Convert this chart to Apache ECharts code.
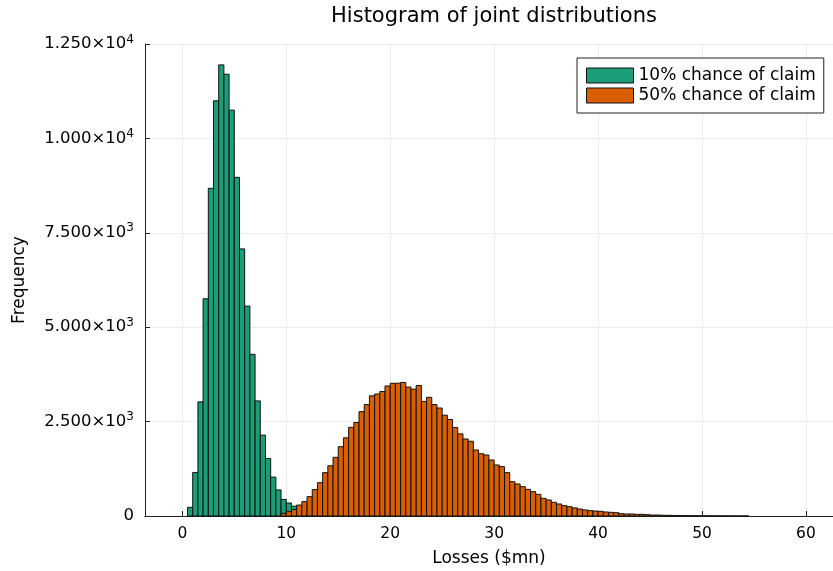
<!DOCTYPE html>
<html>
<head>
<meta charset="utf-8">
<script src="https://cdn.jsdelivr.net/npm/echarts@6/dist/echarts.min.js"></script>
<style>
html,body{margin:0;padding:0;background:#fff;}
#chart{width:833px;height:571px;}
</style>
</head>
<body>
<div id="chart"></div>
<script>
// Histogram bins are 0.5 wide; each array lists counts from its first bin start.
const binWidth = 0.5;
const greenStart = 0.5;
const greenCounts = [230, 1154, 3022, 5753, 8678, 10995, 11947, 11700, 10748, 8969,
  7074, 5559, 4282, 3048, 2141, 1524, 1030, 690, 440, 345, 260, 170, 110, 70, 45, 25, 15];
const orangeStart = 9.5;
const orangeCounts = [70, 115, 170, 290, 380, 512, 700, 883, 1148, 1330,
  1554, 1836, 2070, 2348, 2476, 2763, 2950, 3183, 3231, 3298,
  3443, 3514, 3518, 3537, 3415, 3360, 3456, 3035, 3143, 2950,
  2860, 2670, 2555, 2345, 2175, 2040, 1980, 1748, 1650, 1615,
  1483, 1351, 1307, 1148, 909, 848, 777, 706, 645, 574,
  468, 424, 362, 318, 274, 247, 215, 185, 160, 141,
  132, 124, 106, 97, 88, 62, 53, 53, 44, 44,
  35, 26, 26, 20, 18, 15, 12, 10, 8, 7,
  6, 5, 4, 3, 3, 2, 2, 1, 1, 1];
const seriesNames = ['10% chance of claim', '50% chance of claim'];
const xTicks = [0, 10, 20, 30, 40, 50, 60];
const yTicks = [0, 2500, 5000, 7500, 10000, 12500];

function toBins(start, counts) {
  return counts.map((c, i) => [start + i * binWidth, start + (i + 1) * binWidth, c]);
}

const chart = echarts.init(document.getElementById('chart'));
const FONT = 'DejaVu Sans';

function makeSeries(name, bins, color) {
  return {
    type: 'custom',
    name: name,
    data: bins,
    encode: { x: [0, 1], y: 2 },
    itemStyle: { color: color, borderColor: '#000', borderWidth: 1 },
    renderItem: function (params, api) {
      const p0 = api.coord([api.value(0), api.value(2)]);
      const p1 = api.coord([api.value(1), 0]);
      return {
        type: 'rect',
        shape: { x: p0[0], y: p0[1], width: p1[0] - p0[0], height: p1[1] - p0[1] },
        style: { fill: color, stroke: '#111', lineWidth: 1 }
      };
    }
  };
}

function yFmt(v) {
  if (v === 0) return '0';
  const e = Math.floor(Math.log10(v));
  const m = (v / Math.pow(10, e)).toFixed(3);
  return '{m|' + m + '×10}{e|' + e + '}';
}

chart.setOption({
  animation: false,
  backgroundColor: '#fff',
  textStyle: { fontFamily: FONT },
  graphic: [{
    type: 'text', x: 494, y: 17,
    style: { text: 'Histogram of joint distributions', fontFamily: FONT, fontSize: 21,
      fill: '#000', textAlign: 'center', textVerticalAlign: 'middle' }
  }],
  grid: { left: 145, right: 0, top: 44, bottom: 55, containLabel: false, outerBoundsMode: 'none' },
  legend: {
    orient: 'vertical', left: 577, top: 58,
    padding: [8, 8, 8, 9], itemGap: 1, itemWidth: 47, itemHeight: 15,
    icon: 'rect',
    borderColor: '#222', borderWidth: 1, backgroundColor: '#fff',
    itemStyle: { borderColor: '#111', borderWidth: 1 },
    textStyle: { fontFamily: FONT, fontSize: 17, color: '#000', lineHeight: 19 },
    data: seriesNames
  },
  xAxis: {
    type: 'value', min: -3.59, max: 62.6,
    name: 'Losses ($mn)', nameLocation: 'middle', nameGap: 34,
    nameTextStyle: { fontFamily: FONT, fontSize: 17, color: '#000' },
    axisLine: { show: true, onZero: false, lineStyle: { color: '#222', width: 1 } },
    axisTick: { show: true, inside: true, length: 5, customValues: xTicks, lineStyle: { color: '#222' } },
    axisLabel: { customValues: xTicks, fontFamily: FONT, fontSize: 15.5, color: '#000', margin: 10 },
    splitLine: { show: true, lineStyle: { color: '#ebebeb', width: 1 } }
  },
  yAxis: {
    type: 'value', min: 0, max: 12500, interval: 2500,
    name: 'Frequency', nameLocation: 'middle', nameGap: 117,
    nameTextStyle: { fontFamily: FONT, fontSize: 17, color: '#000' },
    axisLine: { show: true, onZero: false, lineStyle: { color: '#222', width: 1 } },
    axisTick: { show: true, inside: true, length: 5, lineStyle: { color: '#222' } },
    axisLabel: {
      fontFamily: FONT, fontSize: 16.5, color: '#000', margin: 11,
      formatter: yFmt,
      rich: {
        m: { fontFamily: FONT, fontSize: 16.5, color: '#000' },
        e: { fontFamily: FONT, fontSize: 12, color: '#000', verticalAlign: 'top', padding: [0, 0, 9, 0] }
      }
    },
    splitLine: { show: true, lineStyle: { color: '#ebebeb', width: 1 } }
  },
  series: [
    makeSeries(seriesNames[0], toBins(greenStart, greenCounts), '#1b9e77'),
    makeSeries(seriesNames[1], toBins(orangeStart, orangeCounts), '#d95f02')
  ]
});
</script>
</body>
</html>
